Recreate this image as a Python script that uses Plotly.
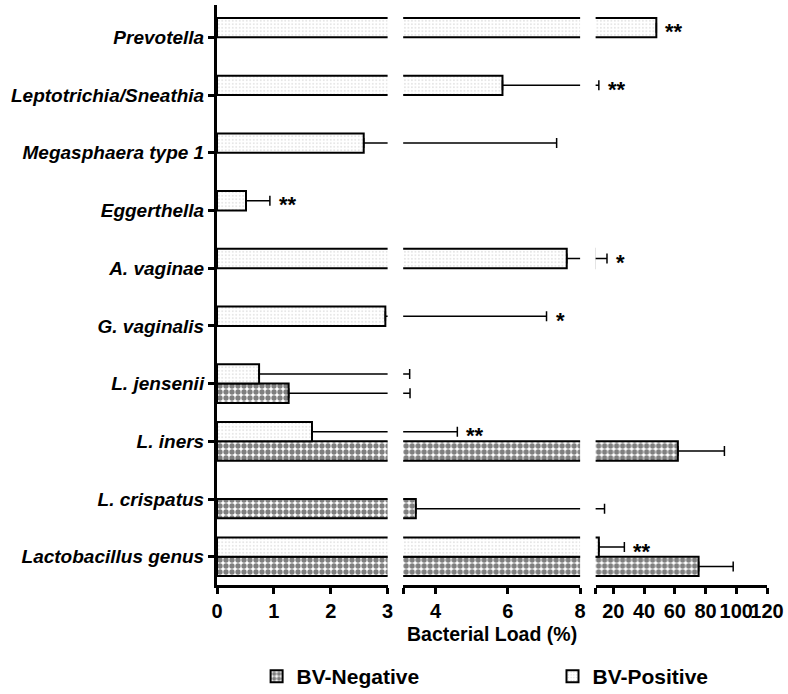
import plotly.graph_objects as go

# ---------------- data ----------------
categories = ["Lactobacillus genus", "L. crispatus", "L. iners", "L. jensenii",
              "G. vaginalis", "A. vaginae", "Eggerthella", "Megasphaera type 1",
              "Leptotrichia/Sneathia", "Prevotella"]
bv_negative = [75.5, 3.45, 62.0, 1.26, None, None, None, None, None, None]
bv_negative_err = [22.5, 10.85, 30.3, 2.03, 0, 0, 0, 0, 0, 0]
bv_positive = [10.6, None, 1.67, 0.74, 2.96, 7.63, 0.51, 2.58, 5.85, 48.0]
bv_positive_err = [16.6, 0, 2.93, 2.54, 4.11, 8.27, 0.42, 4.77, 4.75, 0]
significance = ["**", "", "**", "", "*", "*", "**", "", "**", "**"]

# broken x axis segments
seg_ranges = [(0, 3), (3.1, 8), (8.5, 120)]
seg_ticks = [[0, 1, 2, 3], [3.1, 4, 6, 8], [8.5, 20, 40, 60, 80, 100, 120]]
seg_ticktext = [["0", "1", "2", "3"], ["", "4", "6", "8"],
                ["", "20", "40", "60", "80", "100", "120"]]
seg_domains = [(0.0, 0.3102), (0.3385, 0.6602), (0.6884, 1.0)]

FONT = "Liberation Sans, Arial, sans-serif"
BARGAP = 0.33

neg_pattern = dict(shape=".", fgcolor="black", bgcolor="white", size=6, solidity=0.62)
pos_pattern = dict(shape=".", fgcolor="#8a8a8a", bgcolor="white", size=3.5, solidity=0.12)

fig = go.Figure()
for i in range(3):
    xa = "x" if i == 0 else f"x{i+1}"
    fig.add_trace(go.Bar(
        y=categories, x=bv_negative, orientation="h", name="BV-Negative",
        xaxis=xa, yaxis="y", showlegend=(i == 0), legendgroup="neg", legend="legend",
        marker=dict(color="white", pattern=neg_pattern, line=dict(color="black", width=2)),
        error_x=dict(type="data", array=bv_negative_err, arrayminus=[0]*len(categories),
                     symmetric=False, color="black", thickness=1.5, width=5),
    ))
    fig.add_trace(go.Bar(
        y=categories, x=bv_positive, orientation="h", name="BV-Positive",
        xaxis=xa, yaxis="y", showlegend=(i == 0), legendgroup="pos", legend="legend2",
        marker=dict(color="white", pattern=pos_pattern, line=dict(color="black", width=2)),
        error_x=dict(type="data", array=bv_positive_err, arrayminus=[0]*len(categories),
                     symmetric=False, color="black", thickness=1.5, width=5),
    ))

axis_common = dict(showline=True, linecolor="black", linewidth=2.5, ticks="outside",
                   ticklen=6, tickwidth=2.5, tickcolor="black", showgrid=False,
                   zeroline=False, tickangle=0,
                   tickfont=dict(family=FONT, size=20, color="black", weight="bold"))
for i in range(3):
    key = "xaxis" if i == 0 else f"xaxis{i+1}"
    fig.layout[key] = dict(domain=list(seg_domains[i]), range=list(seg_ranges[i]),
                           anchor="y", tickmode="array", tickvals=seg_ticks[i],
                           ticktext=seg_ticktext[i], **axis_common)

legend_common = dict(orientation="h", y=-0.158, xanchor="left", yanchor="middle",
                     bgcolor="rgba(0,0,0,0)",
                     font=dict(family=FONT, size=21, color="black", weight="bold"))
fig.update_layout(
    yaxis=dict(type="category", categoryorder="array", categoryarray=categories,
               range=[-0.49, 9.56], anchor="x", showline=True, linecolor="black",
               linewidth=3, ticks="outside", ticklen=6, tickwidth=2.5, tickcolor="black",
               showgrid=False, zeroline=False,
               tickfont=dict(family=FONT, size=19, color="black", weight="bold", style="italic")),
    barmode="group", bargap=BARGAP,
    width=788, height=694,
    margin=dict(l=217, r=21, t=5, b=109, autoexpand=False),
    plot_bgcolor="white", paper_bgcolor="white",
    font=dict(family=FONT, color="black"),
    legend=dict(x=0.072, **legend_common),
    legend2=dict(x=0.61, **legend_common),
)

# x axis title
fig.add_annotation(text="Bacterial Load (%)", xref="paper", yref="paper", x=0.5, y=-0.084,
                   showarrow=False, yanchor="middle",
                   font=dict(family=FONT, size=19.5, color="black", weight="bold"))

# significance marks on BV-Positive bars
pos_offset = (1 - BARGAP) / 4
for idx, mark in enumerate(significance):
    if not mark:
        continue
    top = (bv_positive[idx] or 0) + bv_positive_err[idx]
    seg = next(k for k, (lo, hi) in enumerate(seg_ranges) if lo <= top <= hi)
    xref = "x" if seg == 0 else f"x{seg+1}"
    fig.add_annotation(text=mark, xref=xref, yref="y", x=top, y=idx + pos_offset,
                       xanchor="left", yanchor="middle", xshift=7, yshift=-4,
                       showarrow=False,
                       font=dict(family=FONT, size=22, color="black", weight="bold"))

fig.write_html("out.html", config={"displayModeBar": False},
               post_script="document.body.style.margin='0';")
